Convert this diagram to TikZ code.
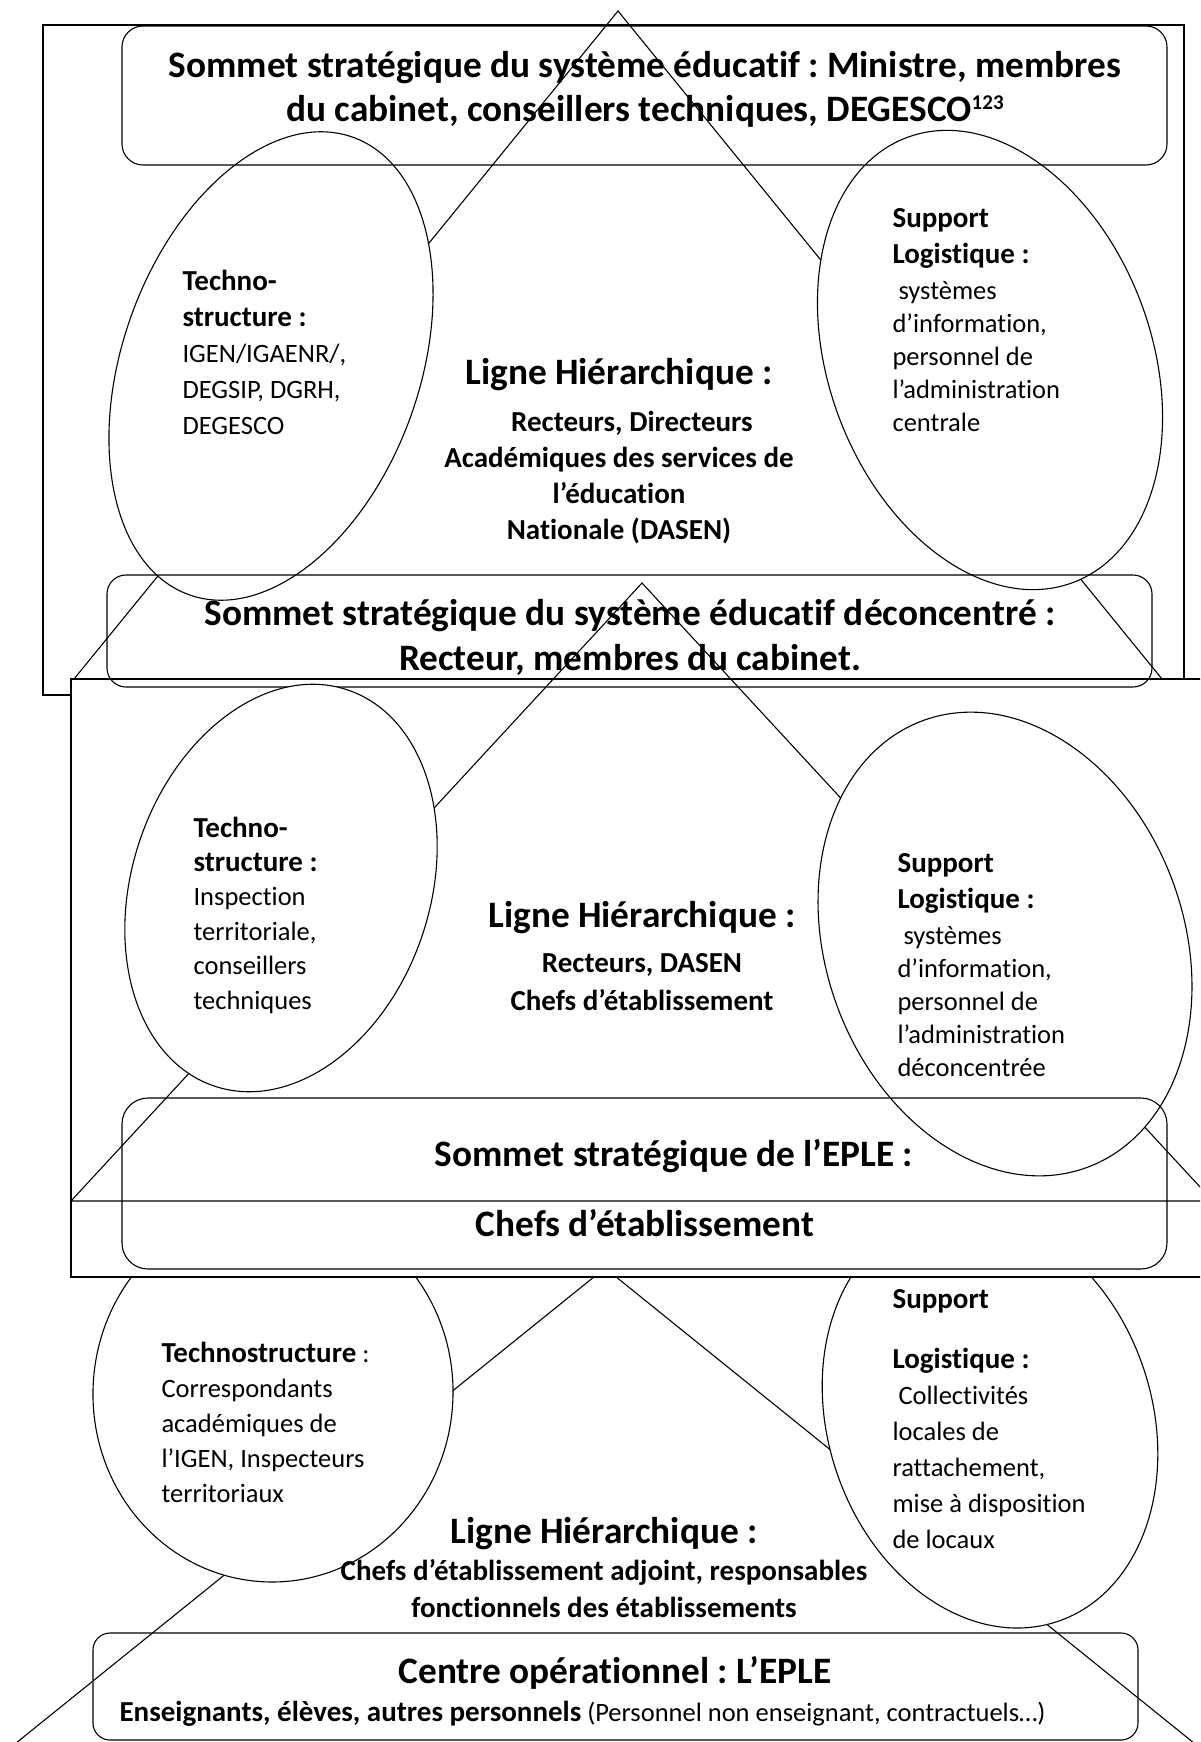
\documentclass[tikz,border=0pt]{standalone}
\usepackage{fontspec}
\setmainfont{Carlito}[Ligatures=NoCommon]
\usetikzlibrary{shapes.geometric}
\frenchspacing
\newcommand{\fT}[1]{\fontsize{37.3}{#1}\selectfont\bfseries}
\newcommand{\fB}[1]{\fontsize{29}{#1}\selectfont\bfseries}
\newcommand{\fR}[1]{\fontsize{26.5}{#1}\selectfont\mdseries}
\begin{document}
\begin{tikzpicture}[x=1pt,y=-1pt,line width=1.1pt,
  ell/.style={draw,ellipse,fill=white,inner sep=0pt,outer sep=0pt},
  bigrect/.style={draw,fill=white,rectangle,inner sep=0pt,outer sep=0pt,anchor=north west},
  rbox/.style={draw,rectangle,inner sep=0pt,outer sep=0pt,anchor=north west,minimum width=1045pt},
  lefttext/.style={inner sep=0pt,anchor=base west},
  midtext/.style={inner sep=0pt,anchor=base}]
\useasboundingbox (0,0) rectangle (1200,1742);
\clip (0,0) rectangle (1200,1742);

% ---------- section 3 (bottom) ----------
\coordinate (t3a) at (605,1268);
\coordinate (t3l) at (-5,1760);
\coordinate (t3r) at (1215,1760);
\draw (t3a) -- (t3l) -- (t3r) -- cycle;
\node[ell,minimum width=360pt,minimum height=378pt,rotate=-3] (e3l) at (273,1393) {};
\node[ell,minimum width=324pt,minimum height=425pt,rotate=18.5] (e3r) at (990,1420) {};
\node[lefttext] (e3ltext) at (161,1362) {\parbox[t]{300pt}{\raggedright
  \fB{35.2}Technostructure\fR{35.2} :\\Correspondants\\académiques de\\l’IGEN, Inspecteurs\\territoriaux}};
\node[lefttext] (e3rtext) at (892,1308) {\parbox[t]{300pt}{\raggedright
  \fB{36}Support\\[24pt]Logistique :\\\fR{36}\hspace*{6pt}Collectivités\\locales de\\rattachement,\\mise à disposition\\de locaux}};
\node[midtext] (ct3) at (604,1543) {\parbox[t]{800pt}{\centering
  \fT{37}Ligne Hiérarchique :\\\fB{37}Chefs d’établissement adjoint, responsables\\fonctionnels des établissements}};
\node[rbox,rounded corners=17pt,minimum height=107pt] (b4) at (93,1633) {};
\node[midtext] (b4t1) at (615,1683) {\fT{44}Centre opérationnel : L’EPLE};
\node[lefttext] (b4t2) at (119,1721) {\fB{36}Enseignants, élèves, autres personnels\fR{36} (Personnel non enseignant, contractuels…)};

% ---------- section 1 (top) ----------
\node[bigrect,minimum width=1141pt,minimum height=670pt] (rA) at (43,25) {};
\coordinate (t1a) at (618,11);
\coordinate (t1l) at (74,679);
\coordinate (t1r) at (1162,679);
\draw (t1a) -- (t1l) -- (t1r) -- cycle;
\node[ell,minimum width=297pt,minimum height=486pt,rotate=-19.7] (e1l) at (271,366) {};
\node[ell,minimum width=323pt,minimum height=475pt,rotate=20.4] (e1r) at (990,360) {};
\node[rbox,rounded corners=21pt,minimum height=139pt] (b1) at (122,26) {};
\node[midtext] (b1t) at (645,78) {\parbox[t]{1100pt}{\centering
  \fT{44}Sommet stratégique du système éducatif : Ministre, membres\\du cabinet, conseillers techniques, DEGESCO\raisebox{12pt}{\fontsize{21}{21}\selectfont 123}}};
\node[lefttext] (e1ltext) at (182,290) {\parbox[t]{260pt}{\raggedright
  \fB{36}Techno-\\structure :\\\fR{36}IGEN/IGAENR/,\\DEGSIP, DGRH,\\DEGESCO}};
\node[lefttext] (e1rtext) at (892,227) {\parbox[t]{300pt}{\raggedright
  \fB{33}Support\\[3pt]Logistique :\\[3pt]\fR{33}\hspace*{6pt}systèmes\\d’information,\\personnel de\\l’administration\\centrale}};
\node[midtext] (ct1) at (619,384) {\parbox[t]{600pt}{\centering
  \fT{36}Ligne Hiérarchique :\\[11pt]\fB{36}\hspace*{26pt}Recteurs, Directeurs\\Académiques des services de\\l’éducation\\Nationale (DASEN)}};

% ---------- section 2 (middle) ----------
\node[bigrect,minimum width=1144pt,minimum height=598pt] (rB) at (71,679) {};
\node[rbox,rounded corners=19pt,minimum height=112pt] (b2) at (107,575) {};
\node[midtext] (b2t) at (630,625) {\parbox[t]{1100pt}{\centering
  \fT{45}Sommet stratégique du système éducatif déconcentré :\\Recteur, membres du cabinet.}};
\coordinate (t2a) at (642,583);
\coordinate (t2l) at (71,1201);
\coordinate (t2r) at (1213,1201);
\draw (t2a) -- (t2l) -- (t2r) -- cycle;
\node[ell,minimum width=298pt,minimum height=418pt,rotate=-18.6] (e2l) at (281,888) {};
\node[ell,minimum width=358pt,minimum height=476pt,rotate=20.1] (e2r) at (1005,944) {};
\node[lefttext] (e2ltext) at (193,837) {\parbox[t]{260pt}{\raggedright
  \fB{34.4}Techno-\\structure :\\\fR{34.4}Inspection\\territoriale,\\conseillers\\techniques}};
\node[lefttext] (e2rtext) at (897,872) {\parbox[t]{300pt}{\raggedright
  \fB{33}Support\\[3pt]Logistique :\\[3pt]\fR{33}\hspace*{6pt}systèmes\\d’information,\\personnel de\\l’administration\\déconcentrée}};
\node[midtext] (ct2) at (642,927) {\parbox[t]{600pt}{\centering
  \fT{38}Ligne Hiérarchique :\\[7pt]\fB{38}Recteurs, DASEN\\Chefs d’établissement}};
\node[rbox,rounded corners=26pt,minimum height=171pt] (b3) at (122,1098) {};
\node[midtext] (b3t1) at (674,1166) {\fT{44}Sommet stratégique de l’EPLE :};
\node[midtext] (b3t2) at (645,1236) {\fT{44}Chefs d’établissement};
\end{tikzpicture}
\end{document}
